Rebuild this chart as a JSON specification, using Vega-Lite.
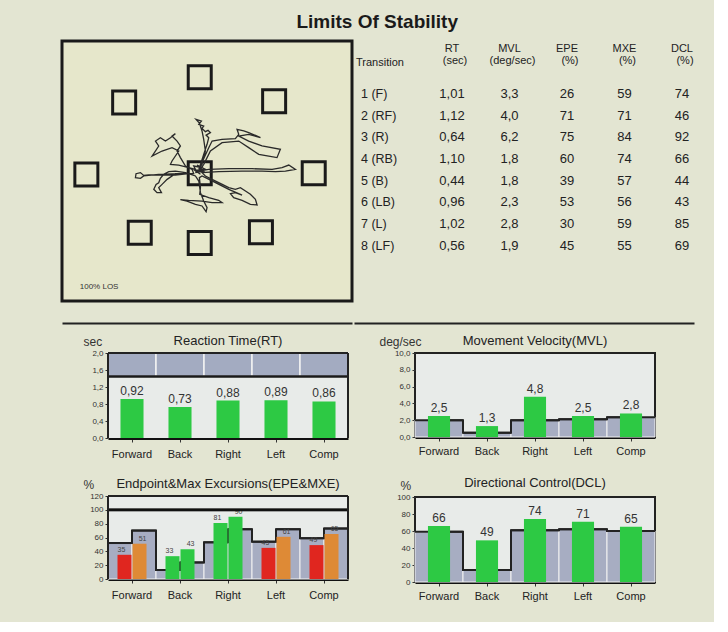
{
"$schema":"https://vega.github.io/schema/vega-lite/v6.json",
"background":"#e3e5d2",
"padding":{"left":60,"top":12,"right":20,"bottom":20},
"title":{"text":"Limits Of Stability","fontSize":19,"fontWeight":"bold","offset":8,"color":"#1a1a1a","anchor":"middle"},
"config":{
 "font":"Liberation Sans",
 "locale":{"number":{"decimal":",","thousands":".","grouping":[3],"currency":["","\u00a0€"]}},
 "view":{"stroke":null},
 "axis":{"grid":false},
 "tick":{"opacity":1}
},
"datasets":{
 "targets":[{"x":0,"y":80},{"x":-63,"y":59},{"x":62,"y":60},{"x":-94.5,"y":-1},{"x":0,"y":0},{"x":95,"y":0},{"x":-50,"y":-49.5},{"x":0,"y":-58},{"x":51,"y":-49}],
 "trace":[
{"i":1,"x":-0.8,"y":1.9},{"i":2,"x":0.6,"y":7.5},{"i":3,"x":3.3,"y":15.8},{"i":4,"x":6.1,"y":24.2},{"i":5,"x":7.5,"y":29.7},{"i":6,"x":5.3,"y":31.9},{"i":7,"x":8.9,"y":33.9},{"i":8,"x":6.9,"y":35.8},{"i":9,"x":4.7,"y":34.7},{"i":10,"x":1.9,"y":37.5},
{"i":11,"x":3.3,"y":39.4},{"i":12,"x":-0.8,"y":40.8},{"i":13,"x":1.4,"y":43.6},{"i":14,"x":-3.1,"y":45},{"i":15,"x":-0.3,"y":41.9},{"i":16,"x":1.9,"y":35.3},{"i":17,"x":3.3,"y":28.3},{"i":18,"x":4.7,"y":18.6},{"i":19,"x":1.9,"y":7.5},{"i":20,"x":-0.8,"y":3.3},
{"i":21,"x":7.5,"y":21.4},{"i":22,"x":10.3,"y":26.9},{"i":23,"x":18.6,"y":28.3},{"i":24,"x":29.7,"y":28.9},{"i":25,"x":32.5,"y":32.5},{"i":26,"x":31.1,"y":36.7},{"i":27,"x":36.7,"y":35.3},{"i":28,"x":40.8,"y":33.9},{"i":29,"x":47.8,"y":31.1},{"i":30,"x":50.6,"y":29.7},
{"i":31,"x":40.8,"y":32.5},{"i":32,"x":32.5,"y":31.1},{"i":33,"x":40.8,"y":26.9},{"i":34,"x":51.9,"y":22.8},{"i":35,"x":67.2,"y":20},{"i":36,"x":64.4,"y":13.1},{"i":37,"x":57.5,"y":14.4},{"i":38,"x":49.2,"y":15.8},{"i":39,"x":40.8,"y":21.4},{"i":40,"x":32.5,"y":26.9},
{"i":41,"x":18.6,"y":25.6},{"i":42,"x":8.9,"y":18.6},{"i":43,"x":3.3,"y":7.5},{"i":44,"x":-0.3,"y":1.9},{"i":45,"x":7.5,"y":3.3},{"i":46,"x":24.2,"y":3.9},{"i":47,"x":43.6,"y":3.9},{"i":48,"x":60.3,"y":3.3},{"i":49,"x":68.6,"y":4.7},{"i":50,"x":74.2,"y":6.9},
{"i":51,"x":79.7,"y":3.3},{"i":52,"x":71.4,"y":1.9},{"i":53,"x":63.1,"y":1.4},{"i":54,"x":51.9,"y":1.9},{"i":55,"x":35.3,"y":1.9},{"i":56,"x":15.8,"y":1.4},{"i":57,"x":1.9,"y":0.6},{"i":58,"x":4.7,"y":-2.2},{"i":59,"x":15.8,"y":-7.8},{"i":60,"x":24.2,"y":-11.9},
{"i":61,"x":29.7,"y":-13.3},{"i":62,"x":33.9,"y":-11.9},{"i":63,"x":38.1,"y":-14.7},{"i":64,"x":42.2,"y":-17.5},{"i":65,"x":46.4,"y":-21.7},{"i":66,"x":47.8,"y":-26.4},{"i":67,"x":42.2,"y":-25.8},{"i":68,"x":35.3,"y":-22.5},{"i":69,"x":28.3,"y":-20.3},{"i":70,"x":25.6,"y":-16.9},
{"i":71,"x":29.7,"y":-16.1},{"i":72,"x":35.3,"y":-18.1},{"i":73,"x":24.2,"y":-13.3},{"i":74,"x":13.1,"y":-7.8},{"i":75,"x":1.9,"y":-2.2},{"i":76,"x":-0.3,"y":-3.6},{"i":77,"x":0.6,"y":-11.9},{"i":78,"x":0,"y":-17.5},{"i":79,"x":7.5,"y":-20.3},{"i":80,"x":15.8,"y":-22.5},
{"i":81,"x":18.6,"y":-24.4},{"i":82,"x":10.3,"y":-24.4},{"i":83,"x":1.9,"y":-23.1},{"i":84,"x":-9.2,"y":-22.5},{"i":85,"x":-16.1,"y":-21.9},{"i":86,"x":-10.6,"y":-23.1},{"i":87,"x":-3.6,"y":-25.8},{"i":88,"x":1.9,"y":-27.2},{"i":89,"x":5.3,"y":-31.9},{"i":90,"x":6.1,"y":-28.6},
{"i":91,"x":3.3,"y":-23.1},{"i":92,"x":0.6,"y":-16.1},{"i":93,"x":-0.8,"y":-6.4},{"i":94,"x":-3.6,"y":-2.2},{"i":95,"x":-11.9,"y":0.6},{"i":96,"x":-20.3,"y":1.9},{"i":97,"x":-25.8,"y":1.4},{"i":98,"x":-30,"y":-0.8},{"i":99,"x":-32.8,"y":-4.2},{"i":100,"x":-34.2,"y":-7.8},
{"i":101,"x":-36.4,"y":-9.2},{"i":102,"x":-38.3,"y":-13.3},{"i":103,"x":-35.6,"y":-16.1},{"i":104,"x":-31.9,"y":-16.1},{"i":105,"x":-34.2,"y":-11.9},{"i":106,"x":-31.4,"y":-9.2},{"i":107,"x":-27.2,"y":-5},{"i":108,"x":-20.3,"y":-0.3},{"i":109,"x":-9.2,"y":-0.3},{"i":110,"x":-20.3,"y":-1.4},
{"i":111,"x":-31.4,"y":-1.4},{"i":112,"x":-42.5,"y":-1.4},{"i":113,"x":-46.7,"y":-1.7},{"i":114,"x":-49.4,"y":0.6},{"i":115,"x":-53.1,"y":-0.3},{"i":116,"x":-53.6,"y":-3.6},{"i":117,"x":-49.4,"y":-4.2},{"i":118,"x":-46.7,"y":-2.2},{"i":119,"x":-34.2,"y":-0.8},{"i":120,"x":-17.5,"y":-0.3},
{"i":121,"x":-5,"y":-0.3},{"i":122,"x":-6.4,"y":3.3},{"i":123,"x":-11.9,"y":6.1},{"i":124,"x":-16.1,"y":13.1},{"i":125,"x":-18.9,"y":18.6},{"i":126,"x":-16.1,"y":22.8},{"i":127,"x":-18.9,"y":26.9},{"i":128,"x":-23.1,"y":31.1},{"i":129,"x":-20.3,"y":33.1},{"i":130,"x":-24.4,"y":29.7},
{"i":131,"x":-28.6,"y":26.9},{"i":132,"x":-32.8,"y":29.7},{"i":133,"x":-36.9,"y":26.9},{"i":134,"x":-34.2,"y":22.8},{"i":135,"x":-39.7,"y":14.4},{"i":136,"x":-31.4,"y":18.6},{"i":137,"x":-23.1,"y":21.4},{"i":138,"x":-17.5,"y":18.6},{"i":139,"x":-23.1,"y":10.3},{"i":140,"x":-24.4,"y":7.5},
{"i":141,"x":-17.5,"y":6.9},{"i":142,"x":-9.2,"y":4.7},{"i":143,"x":-3.6,"y":3.3},{"i":144,"x":-5,"y":6.1},{"i":145,"x":1.9,"y":4.7},{"i":146,"x":-3.6,"y":0.6},{"i":147,"x":3.3,"y":1.9},{"i":148,"x":-2.2,"y":6.9},{"i":149,"x":4.7,"y":3.3},{"i":150,"x":-4.2,"y":2.5},{"i":151,"x":0.6,"y":-0.8}
 ],
 "table":[
 {"n":1,"t":"1 (F)","RT":1.01,"MVL":3.3,"EPE":26,"MXE":59,"DCL":74},
 {"n":2,"t":"2 (RF)","RT":1.12,"MVL":4.0,"EPE":71,"MXE":71,"DCL":46},
 {"n":3,"t":"3 (R)","RT":0.64,"MVL":6.2,"EPE":75,"MXE":84,"DCL":92},
 {"n":4,"t":"4 (RB)","RT":1.10,"MVL":1.8,"EPE":60,"MXE":74,"DCL":66},
 {"n":5,"t":"5 (B)","RT":0.44,"MVL":1.8,"EPE":39,"MXE":57,"DCL":44},
 {"n":6,"t":"6 (LB)","RT":0.96,"MVL":2.3,"EPE":53,"MXE":56,"DCL":43},
 {"n":7,"t":"7 (L)","RT":1.02,"MVL":2.8,"EPE":30,"MXE":59,"DCL":85},
 {"n":8,"t":"8 (LF)","RT":0.56,"MVL":1.9,"EPE":45,"MXE":55,"DCL":69}
 ],
 "hdr":[{"c":"RT","h1":"RT","h2":"(sec)"},{"c":"MVL","h1":"MVL","h2":"(deg/sec)"},{"c":"EPE","h1":"EPE","h2":"(%)"},{"c":"MXE","h1":"MXE","h2":"(%)"},{"c":"DCL","h1":"DCL","h2":"(%)"}],
 "rt":[{"d":"Forward","v":0.92,"norm":1.45},{"d":"Back","v":0.73,"norm":1.45},{"d":"Right","v":0.88,"norm":1.45},{"d":"Left","v":0.89,"norm":1.45},{"d":"Comp","v":0.86,"norm":1.45}],
 "mvl":[{"d":"Forward","v":2.5,"norm":2.0},{"d":"Back","v":1.3,"norm":0.5},{"d":"Right","v":4.8,"norm":2.0},{"d":"Left","v":2.5,"norm":2.1},{"d":"Comp","v":2.8,"norm":2.35}],
 "dcl":[{"d":"Forward","v":66,"norm":59},{"d":"Back","v":49,"norm":14},{"d":"Right","v":74,"norm":61},{"d":"Left","v":71,"norm":62},{"d":"Comp","v":65,"norm":60}],
 "epe":[
 {"k":1,"d":"Forward","m":"EPE","v":35,"norm":52,"f":"EPE low"},
 {"k":2,"d":"Forward","m":"MXE","v":51,"norm":70,"f":"MXE low"},
 {"k":3,"d":"Back","m":"EPE","v":33,"norm":13,"f":"ok"},
 {"k":4,"d":"Back","m":"MXE","v":43,"norm":24,"f":"ok"},
 {"k":5,"d":"Right","m":"EPE","v":81,"norm":53,"f":"ok"},
 {"k":6,"d":"Right","m":"MXE","v":90,"norm":72,"f":"ok"},
 {"k":7,"d":"Left","m":"EPE","v":45,"norm":54,"f":"EPE low"},
 {"k":8,"d":"Left","m":"MXE","v":61,"norm":72,"f":"MXE low"},
 {"k":9,"d":"Comp","m":"EPE","v":49,"norm":59,"f":"EPE low"},
 {"k":10,"d":"Comp","m":"MXE","v":65,"norm":73,"f":"MXE low"}
 ]
},
"spacing":8,
"vconcat":[
 {"spacing":-3,"hconcat":[
  {"width":290,"height":260,
   "view":{"stroke":"#1a1a1a","strokeWidth":3,"fill":"#e6e7cb"},
   "layer":[
    {"data":{"name":"targets"},"mark":{"type":"point","shape":"square","size":529,"filled":false,"stroke":"#1a1a1a","strokeWidth":3,"opacity":1},
     "encoding":{
      "x":{"field":"x","type":"quantitative","scale":{"domain":[-114.8,126.9],"nice":false,"zero":false},"axis":{"title":null,"labels":false,"ticks":false,"grid":false,"domain":true,"domainColor":"#222","domainWidth":2,"offset":22}},
      "y":{"field":"y","type":"quantitative","scale":{"domain":[-106.4,110.3],"nice":false,"zero":false},"axis":null}}},
    {"data":{"name":"trace"},"mark":{"type":"line","color":"#2a2a2a","strokeWidth":1.3},
     "encoding":{
      "x":{"field":"x","type":"quantitative","axis":{"title":null,"labels":false,"ticks":false,"grid":false,"domain":true,"domainColor":"#222","domainWidth":2,"offset":22}},
      "y":{"field":"y","type":"quantitative","axis":null},
      "order":{"field":"i","type":"quantitative"}}},
    {"data":{"values":[{}]},"mark":{"type":"text","align":"left","fontSize":8,"color":"#333"},
     "encoding":{
      "x":{"datum":-100,"type":"quantitative","axis":{"title":null,"labels":false,"ticks":false,"grid":false,"domain":true,"domainColor":"#222","domainWidth":2,"offset":22}},
      "y":{"datum":-95,"type":"quantitative","axis":null},
      "text":{"value":"100% LOS"}}}
   ]
  },
  {"width":340,"height":260,
   "view":{"stroke":null},
   "layer":[
    {"data":{"name":"hdr"},"mark":{"type":"text","fontSize":11,"color":"#222"},
     "encoding":{"x":{"field":"c","type":"nominal","scale":{"type":"point","domain":["Transition","RT","MVL","EPE","MXE","DCL"],"padding":0.4565,"align":0.771},"axis":{"title":null,"labels":false,"ticks":false,"grid":false,"domain":true,"domainColor":"#222","domainWidth":2,"offset":22}},
      "y":{"datum":-1.1,"type":"quantitative","scale":{"domain":[-1.45,10.55],"reverse":true,"nice":false,"zero":false},"axis":null},"text":{"field":"h1","type":"nominal"}}},
    {"data":{"name":"hdr"},"mark":{"type":"text","fontSize":11,"color":"#222","dx":3},
     "encoding":{"x":{"field":"c","type":"nominal","axis":{"title":null,"labels":false,"ticks":false,"grid":false,"domain":true,"domainColor":"#222","domainWidth":2,"offset":22}},
      "y":{"datum":-0.55,"type":"quantitative","axis":null},"text":{"field":"h2","type":"nominal"}}},
    {"data":{"values":[{}]},"mark":{"type":"text","align":"left","dx":-38.5,"fontSize":11,"color":"#222"},
     "encoding":{"x":{"datum":"Transition","type":"nominal","axis":{"title":null,"labels":false,"ticks":false,"grid":false,"domain":true,"domainColor":"#222","domainWidth":2,"offset":22}},
      "y":{"datum":-0.42,"type":"quantitative","axis":null},"text":{"value":"Transition"}}},
    {"data":{"name":"table"},"mark":{"type":"text","align":"left","dx":-33.5,"fontSize":12.5,"color":"#222"},
     "encoding":{"x":{"datum":"Transition","type":"nominal","axis":{"title":null,"labels":false,"ticks":false,"grid":false,"domain":true,"domainColor":"#222","domainWidth":2,"offset":22}},
      "y":{"field":"n","type":"quantitative","axis":null},"text":{"field":"t","type":"nominal"}}},
    {"data":{"name":"table"},"mark":{"type":"text","fontSize":13,"color":"#222"},"encoding":{"x":{"datum":"RT","type":"nominal","axis":{"title":null,"labels":false,"ticks":false,"grid":false,"domain":true,"domainColor":"#222","domainWidth":2,"offset":22}},"y":{"field":"n","type":"quantitative","axis":null},"text":{"field":"RT","type":"quantitative","format":".2f"}}},
    {"data":{"name":"table"},"mark":{"type":"text","fontSize":13,"color":"#222"},"encoding":{"x":{"datum":"MVL","type":"nominal","axis":{"title":null,"labels":false,"ticks":false,"grid":false,"domain":true,"domainColor":"#222","domainWidth":2,"offset":22}},"y":{"field":"n","type":"quantitative","axis":null},"text":{"field":"MVL","type":"quantitative","format":".1f"}}},
    {"data":{"name":"table"},"mark":{"type":"text","fontSize":13,"color":"#222"},"encoding":{"x":{"datum":"EPE","type":"nominal","axis":{"title":null,"labels":false,"ticks":false,"grid":false,"domain":true,"domainColor":"#222","domainWidth":2,"offset":22}},"y":{"field":"n","type":"quantitative","axis":null},"text":{"field":"EPE","type":"quantitative","format":"d"}}},
    {"data":{"name":"table"},"mark":{"type":"text","fontSize":13,"color":"#222"},"encoding":{"x":{"datum":"MXE","type":"nominal","axis":{"title":null,"labels":false,"ticks":false,"grid":false,"domain":true,"domainColor":"#222","domainWidth":2,"offset":22}},"y":{"field":"n","type":"quantitative","axis":null},"text":{"field":"MXE","type":"quantitative","format":"d"}}},
    {"data":{"name":"table"},"mark":{"type":"text","fontSize":13,"color":"#222"},"encoding":{"x":{"datum":"DCL","type":"nominal","axis":{"title":null,"labels":false,"ticks":false,"grid":false,"domain":true,"domainColor":"#222","domainWidth":2,"offset":22}},"y":{"field":"n","type":"quantitative","axis":null},"text":{"field":"DCL","type":"quantitative","format":"d"}}}
   ]
  }
 ]},
 {"spacing":25,"hconcat":[
  {"spacing":18,"vconcat":[
   {"width":286,"height":85,
    "title":{"text":"Reaction Time(RT)","fontSize":13,"fontWeight":"normal","color":"#222","anchor":"middle","offset":-12.5,"dx":23},
    "data":{"name":"rt"},
    "view":{"stroke":null},
    "layer":[
     {"mark":{"type":"bar","fill":"#e8ebe9","width":{"band":1}},
      "encoding":{
       "x":{"field":"d","type":"nominal","sort":["Forward","Back","Right","Left","Comp"],"scale":{"range":[46,286],"paddingInner":0,"paddingOuter":0},"axis":{"title":null,"labelAngle":0,"labelFontSize":11,"labelColor":"#222","labelPadding":6,"tickSize":4,"tickColor":"#333","domainWidth":3,"domainColor":"#111"}},
       "y":{"datum":2,"type":"quantitative","scale":{"domain":[0,2],"nice":false},"axis":{"offset":-46,"title":"sec","titleX":-25,"titleY":-12,"titleAngle":0,"titleAlign":"left","titleBaseline":"middle","titleFontSize":12,"titleFontWeight":"normal","titleColor":"#333","values":[0,0.4,0.8,1.2,1.6,2],"format":".1f","labelFontSize":8,"labelColor":"#333","tickSize":3,"tickColor":"#333","domain":false,"labelPadding":2}}}},
     {"mark":{"type":"bar","fill":"#a3abc1","stroke":"#f2f2f2","strokeWidth":1.5,"width":{"band":1}},
      "encoding":{
       "x":{"field":"d","type":"nominal","sort":["Forward","Back","Right","Left","Comp"],"axis":{"title":null,"labelAngle":0,"labelFontSize":11,"labelColor":"#222","labelPadding":6,"tickSize":4,"tickColor":"#333","domainWidth":3,"domainColor":"#111"}},
       "y":{"field":"norm","type":"quantitative","axis":{"offset":-46,"title":"sec","titleX":-25,"titleY":-12,"titleAngle":0,"titleAlign":"left","titleBaseline":"middle","titleFontSize":12,"titleFontWeight":"normal","titleColor":"#333","values":[0,0.4,0.8,1.2,1.6,2],"format":".1f","labelFontSize":8,"labelColor":"#333","tickSize":3,"tickColor":"#333","domain":false,"labelPadding":2}},"y2":{"datum":2}}},
     {"mark":{"type":"tick","color":"#1a1a1a","thickness":2.5,"size":48,"opacity":1},
      "encoding":{
       "x":{"field":"d","type":"nominal","sort":["Forward","Back","Right","Left","Comp"],"axis":{"title":null,"labelAngle":0,"labelFontSize":11,"labelColor":"#222","labelPadding":6,"tickSize":4,"tickColor":"#333","domainWidth":3,"domainColor":"#111"}},
       "y":{"field":"norm","type":"quantitative","axis":{"offset":-46,"title":"sec","titleX":-25,"titleY":-12,"titleAngle":0,"titleAlign":"left","titleBaseline":"middle","titleFontSize":12,"titleFontWeight":"normal","titleColor":"#333","values":[0,0.4,0.8,1.2,1.6,2],"format":".1f","labelFontSize":8,"labelColor":"#333","tickSize":3,"tickColor":"#333","domain":false,"labelPadding":2}}}},
     {"mark":{"type":"bar","color":"#2dc944","width":{"band":0.48}},
      "encoding":{
       "x":{"field":"d","type":"nominal","sort":["Forward","Back","Right","Left","Comp"],"axis":{"title":null,"labelAngle":0,"labelFontSize":11,"labelColor":"#222","labelPadding":6,"tickSize":4,"tickColor":"#333","domainWidth":3,"domainColor":"#111"}},
       "y":{"field":"v","type":"quantitative","axis":{"offset":-46,"title":"sec","titleX":-25,"titleY":-12,"titleAngle":0,"titleAlign":"left","titleBaseline":"middle","titleFontSize":12,"titleFontWeight":"normal","titleColor":"#333","values":[0,0.4,0.8,1.2,1.6,2],"format":".1f","labelFontSize":8,"labelColor":"#333","tickSize":3,"tickColor":"#333","domain":false,"labelPadding":2}}}},
     {"mark":{"type":"text","dy":-8,"fontSize":12,"color":"#333"},
      "encoding":{
       "x":{"field":"d","type":"nominal","sort":["Forward","Back","Right","Left","Comp"],"axis":{"title":null,"labelAngle":0,"labelFontSize":11,"labelColor":"#222","labelPadding":6,"tickSize":4,"tickColor":"#333","domainWidth":3,"domainColor":"#111"}},
       "y":{"field":"v","type":"quantitative","axis":{"offset":-46,"title":"sec","titleX":-25,"titleY":-12,"titleAngle":0,"titleAlign":"left","titleBaseline":"middle","titleFontSize":12,"titleFontWeight":"normal","titleColor":"#333","values":[0,0.4,0.8,1.2,1.6,2],"format":".1f","labelFontSize":8,"labelColor":"#333","tickSize":3,"tickColor":"#333","domain":false,"labelPadding":2}},
       "text":{"field":"v","type":"quantitative","format":".2f"}}},
     {"mark":{"type":"tick","color":"#222","thickness":2,"size":48,"opacity":1},
      "encoding":{
       "x":{"field":"d","type":"nominal","sort":["Forward","Back","Right","Left","Comp"],"axis":{"title":null,"labelAngle":0,"labelFontSize":11,"labelColor":"#222","labelPadding":6,"tickSize":4,"tickColor":"#333","domainWidth":3,"domainColor":"#111"}},
       "y":{"datum":2,"type":"quantitative","axis":{"offset":-46,"title":"sec","titleX":-25,"titleY":-12,"titleAngle":0,"titleAlign":"left","titleBaseline":"middle","titleFontSize":12,"titleFontWeight":"normal","titleColor":"#333","values":[0,0.4,0.8,1.2,1.6,2],"format":".1f","labelFontSize":8,"labelColor":"#333","tickSize":3,"tickColor":"#333","domain":false,"labelPadding":2}}}},
     {"mark":{"type":"rule","color":"#222","strokeWidth":2},
      "encoding":{
       "x":{"datum":"Forward","type":"nominal","bandPosition":0,"axis":{"title":null,"labelAngle":0,"labelFontSize":11,"labelColor":"#222","labelPadding":6,"tickSize":4,"tickColor":"#333","domainWidth":3,"domainColor":"#111"}},
       "y":{"datum":0,"type":"quantitative","axis":{"offset":-46,"title":"sec","titleX":-25,"titleY":-12,"titleAngle":0,"titleAlign":"left","titleBaseline":"middle","titleFontSize":12,"titleFontWeight":"normal","titleColor":"#333","values":[0,0.4,0.8,1.2,1.6,2],"format":".1f","labelFontSize":8,"labelColor":"#333","tickSize":3,"tickColor":"#333","domain":false,"labelPadding":2}},
       "y2":{"datum":2}}},
     {"mark":{"type":"rule","color":"#222","strokeWidth":2},
      "encoding":{
       "x":{"datum":"Comp","type":"nominal","bandPosition":1,"axis":{"title":null,"labelAngle":0,"labelFontSize":11,"labelColor":"#222","labelPadding":6,"tickSize":4,"tickColor":"#333","domainWidth":3,"domainColor":"#111"}},
       "y":{"datum":0,"type":"quantitative","axis":{"offset":-46,"title":"sec","titleX":-25,"titleY":-12,"titleAngle":0,"titleAlign":"left","titleBaseline":"middle","titleFontSize":12,"titleFontWeight":"normal","titleColor":"#333","values":[0,0.4,0.8,1.2,1.6,2],"format":".1f","labelFontSize":8,"labelColor":"#333","tickSize":3,"tickColor":"#333","domain":false,"labelPadding":2}},
       "y2":{"datum":2}}}
    ]
   },
   {"width":286,"height":83,
    "title":{"text":"Endpoint&Max Excursions(EPE&MXE)","fontSize":13,"fontWeight":"normal","color":"#222","anchor":"middle","offset":-12.5,"dx":23},
    "data":{"name":"epe"},
    "view":{"stroke":null},
    "layer":[
     {"mark":{"type":"bar","fill":"#e8ebe9","width":{"band":1}},
      "encoding":{
       "x":{"field":"d","type":"nominal","sort":["Forward","Back","Right","Left","Comp"],"scale":{"range":[46,286],"paddingInner":0,"paddingOuter":0},"axis":{"title":null,"labelAngle":0,"labelFontSize":11,"labelColor":"#222","labelPadding":6,"tickSize":4,"tickColor":"#333","domainWidth":3,"domainColor":"#111"}},
       "xOffset":{"field":"m","type":"nominal","sort":["EPE","MXE"],"scale":{"paddingInner":0,"paddingOuter":0}},
       "y":{"datum":120,"type":"quantitative","scale":{"domain":[0,120],"nice":false},"axis":{"offset":-46,"title":"%","titleX":-25,"titleY":-12,"titleAngle":0,"titleAlign":"left","titleBaseline":"middle","titleFontSize":12,"titleFontWeight":"normal","titleColor":"#333","values":[0,20,40,60,80,100,120],"format":"d","labelFontSize":8,"labelColor":"#333","tickSize":3,"tickColor":"#333","domain":false,"labelPadding":2}}}},
     {"mark":{"type":"bar","fill":"#a7adc2","stroke":"#f2f2f2","strokeWidth":1,"width":{"band":1}},
      "encoding":{
       "x":{"field":"d","type":"nominal","sort":["Forward","Back","Right","Left","Comp"],"axis":{"title":null,"labelAngle":0,"labelFontSize":11,"labelColor":"#222","labelPadding":6,"tickSize":4,"tickColor":"#333","domainWidth":3,"domainColor":"#111"}},
       "xOffset":{"field":"m","type":"nominal","sort":["EPE","MXE"],"scale":{"paddingInner":0,"paddingOuter":0}},
       "y":{"field":"norm","type":"quantitative","axis":{"offset":-46,"title":"%","titleX":-25,"titleY":-12,"titleAngle":0,"titleAlign":"left","titleBaseline":"middle","titleFontSize":12,"titleFontWeight":"normal","titleColor":"#333","values":[0,20,40,60,80,100,120],"format":"d","labelFontSize":8,"labelColor":"#333","tickSize":3,"tickColor":"#333","domain":false,"labelPadding":2}}}},
     {"mark":{"type":"line","interpolate":"step","color":"#222","strokeWidth":2},
      "encoding":{
       "x":{"field":"d","type":"nominal","sort":["Forward","Back","Right","Left","Comp"],"axis":{"title":null,"labelAngle":0,"labelFontSize":11,"labelColor":"#222","labelPadding":6,"tickSize":4,"tickColor":"#333","domainWidth":3,"domainColor":"#111"}},
       "xOffset":{"field":"m","type":"nominal","sort":["EPE","MXE"],"scale":{"paddingInner":0,"paddingOuter":0}},
       "y":{"field":"norm","type":"quantitative","axis":{"offset":-46,"title":"%","titleX":-25,"titleY":-12,"titleAngle":0,"titleAlign":"left","titleBaseline":"middle","titleFontSize":12,"titleFontWeight":"normal","titleColor":"#333","values":[0,20,40,60,80,100,120],"format":"d","labelFontSize":8,"labelColor":"#333","tickSize":3,"tickColor":"#333","domain":false,"labelPadding":2}},
       "order":{"field":"k","type":"quantitative"}}},
     {"mark":{"type":"tick","color":"#222","thickness":2,"size":24,"opacity":1},
      "encoding":{
       "x":{"field":"d","type":"nominal","sort":["Forward","Back","Right","Left","Comp"],"axis":{"title":null,"labelAngle":0,"labelFontSize":11,"labelColor":"#222","labelPadding":6,"tickSize":4,"tickColor":"#333","domainWidth":3,"domainColor":"#111"}},
       "xOffset":{"field":"m","type":"nominal","sort":["EPE","MXE"],"scale":{"paddingInner":0,"paddingOuter":0}},
       "y":{"field":"norm","type":"quantitative","axis":{"offset":-46,"title":"%","titleX":-25,"titleY":-12,"titleAngle":0,"titleAlign":"left","titleBaseline":"middle","titleFontSize":12,"titleFontWeight":"normal","titleColor":"#333","values":[0,20,40,60,80,100,120],"format":"d","labelFontSize":8,"labelColor":"#333","tickSize":3,"tickColor":"#333","domain":false,"labelPadding":2}}}},
     {"mark":{"type":"bar","width":{"band":1}},
      "encoding":{
       "x":{"field":"d","type":"nominal","sort":["Forward","Back","Right","Left","Comp"],"axis":{"title":null,"labelAngle":0,"labelFontSize":11,"labelColor":"#222","labelPadding":6,"tickSize":4,"tickColor":"#333","domainWidth":3,"domainColor":"#111"}},
       "xOffset":{"field":"m","type":"nominal","sort":["EPE","MXE"],"scale":{"paddingInner":0.067,"paddingOuter":0.633}},
       "y":{"field":"v","type":"quantitative","axis":{"offset":-46,"title":"%","titleX":-25,"titleY":-12,"titleAngle":0,"titleAlign":"left","titleBaseline":"middle","titleFontSize":12,"titleFontWeight":"normal","titleColor":"#333","values":[0,20,40,60,80,100,120],"format":"d","labelFontSize":8,"labelColor":"#333","tickSize":3,"tickColor":"#333","domain":false,"labelPadding":2}},
       "color":{"field":"f","type":"nominal","scale":{"domain":["EPE low","MXE low","ok"],"range":["#e0261f","#de8a36","#2dc944"]},"legend":null}}},
     {"mark":{"type":"text","dy":-5,"fontSize":7,"color":"#444"},
      "encoding":{
       "x":{"field":"d","type":"nominal","sort":["Forward","Back","Right","Left","Comp"],"axis":{"title":null,"labelAngle":0,"labelFontSize":11,"labelColor":"#222","labelPadding":6,"tickSize":4,"tickColor":"#333","domainWidth":3,"domainColor":"#111"}},
       "xOffset":{"field":"m","type":"nominal","sort":["EPE","MXE"],"scale":{"paddingInner":0.067,"paddingOuter":0.633}},
       "y":{"field":"v","type":"quantitative","axis":{"offset":-46,"title":"%","titleX":-25,"titleY":-12,"titleAngle":0,"titleAlign":"left","titleBaseline":"middle","titleFontSize":12,"titleFontWeight":"normal","titleColor":"#333","values":[0,20,40,60,80,100,120],"format":"d","labelFontSize":8,"labelColor":"#333","tickSize":3,"tickColor":"#333","domain":false,"labelPadding":2}},
       "text":{"field":"v","type":"quantitative","format":"d"}}},
     {"mark":{"type":"tick","color":"#111","thickness":3,"size":24,"opacity":1},
      "encoding":{
       "x":{"field":"d","type":"nominal","sort":["Forward","Back","Right","Left","Comp"],"axis":{"title":null,"labelAngle":0,"labelFontSize":11,"labelColor":"#222","labelPadding":6,"tickSize":4,"tickColor":"#333","domainWidth":3,"domainColor":"#111"}},
       "xOffset":{"field":"m","type":"nominal","sort":["EPE","MXE"],"scale":{"paddingInner":0,"paddingOuter":0}},
       "y":{"datum":100,"type":"quantitative","axis":{"offset":-46,"title":"%","titleX":-25,"titleY":-12,"titleAngle":0,"titleAlign":"left","titleBaseline":"middle","titleFontSize":12,"titleFontWeight":"normal","titleColor":"#333","values":[0,20,40,60,80,100,120],"format":"d","labelFontSize":8,"labelColor":"#333","tickSize":3,"tickColor":"#333","domain":false,"labelPadding":2}}}},
     {"mark":{"type":"tick","color":"#222","thickness":2,"size":24,"opacity":1},
      "encoding":{
       "x":{"field":"d","type":"nominal","sort":["Forward","Back","Right","Left","Comp"],"axis":{"title":null,"labelAngle":0,"labelFontSize":11,"labelColor":"#222","labelPadding":6,"tickSize":4,"tickColor":"#333","domainWidth":3,"domainColor":"#111"}},
       "xOffset":{"field":"m","type":"nominal","sort":["EPE","MXE"],"scale":{"paddingInner":0,"paddingOuter":0}},
       "y":{"datum":120,"type":"quantitative","axis":{"offset":-46,"title":"%","titleX":-25,"titleY":-12,"titleAngle":0,"titleAlign":"left","titleBaseline":"middle","titleFontSize":12,"titleFontWeight":"normal","titleColor":"#333","values":[0,20,40,60,80,100,120],"format":"d","labelFontSize":8,"labelColor":"#333","tickSize":3,"tickColor":"#333","domain":false,"labelPadding":2}}}},
     {"mark":{"type":"rule","color":"#222","strokeWidth":2},
      "encoding":{
       "x":{"datum":"Forward","type":"nominal","bandPosition":0,"axis":{"title":null,"labelAngle":0,"labelFontSize":11,"labelColor":"#222","labelPadding":6,"tickSize":4,"tickColor":"#333","domainWidth":3,"domainColor":"#111"}},
       "y":{"datum":0,"type":"quantitative","axis":{"offset":-46,"title":"%","titleX":-25,"titleY":-12,"titleAngle":0,"titleAlign":"left","titleBaseline":"middle","titleFontSize":12,"titleFontWeight":"normal","titleColor":"#333","values":[0,20,40,60,80,100,120],"format":"d","labelFontSize":8,"labelColor":"#333","tickSize":3,"tickColor":"#333","domain":false,"labelPadding":2}},
       "y2":{"datum":120}}},
     {"mark":{"type":"rule","color":"#222","strokeWidth":2},
      "encoding":{
       "x":{"datum":"Comp","type":"nominal","bandPosition":1,"axis":{"title":null,"labelAngle":0,"labelFontSize":11,"labelColor":"#222","labelPadding":6,"tickSize":4,"tickColor":"#333","domainWidth":3,"domainColor":"#111"}},
       "y":{"datum":0,"type":"quantitative","axis":{"offset":-46,"title":"%","titleX":-25,"titleY":-12,"titleAngle":0,"titleAlign":"left","titleBaseline":"middle","titleFontSize":12,"titleFontWeight":"normal","titleColor":"#333","values":[0,20,40,60,80,100,120],"format":"d","labelFontSize":8,"labelColor":"#333","tickSize":3,"tickColor":"#333","domain":false,"labelPadding":2}},
       "y2":{"datum":120}}}
    ],
    "resolve":{"scale":{"xOffset":"independent"}}
   }
  ]},
  {"spacing":18,"vconcat":[
   {"width":240,"height":84,
    "title":{"text":"Movement Velocity(MVL)","fontSize":13,"fontWeight":"normal","color":"#222","anchor":"middle","offset":-12.8},
    "data":{"name":"mvl"},
    "view":{"stroke":"#222","strokeWidth":2,"fill":"#e8ebe9"},
    "encoding":{"x":{"field":"d","type":"nominal","sort":["Forward","Back","Right","Left","Comp"],"scale":{"paddingInner":0,"paddingOuter":0},"axis":{"title":null,"labelAngle":0,"labelFontSize":11,"labelColor":"#222","labelPadding":4,"tickSize":4,"tickColor":"#333","domainWidth":3,"domainColor":"#111"}}},
    "layer":[
     {"mark":{"type":"bar","fill":"#a7adc2","stroke":"#f2f2f2","strokeWidth":1,"width":{"band":1}},
      "encoding":{"y":{"field":"norm","type":"quantitative","scale":{"domain":[0,10],"nice":false},"axis":{"title":"deg/sec","titleX":-36,"titleY":-12,"titleAngle":0,"titleAlign":"left","titleBaseline":"middle","titleFontSize":12,"titleFontWeight":"normal","titleColor":"#333","values":[0,2,4,6,8,10],"format":".1f","labelFontSize":8,"labelColor":"#333","tickSize":3,"tickColor":"#333","domain":false,"minExtent":37,"labelPadding":2}}}},
     {"mark":{"type":"line","interpolate":"step","color":"#222","strokeWidth":2},"encoding":{"y":{"field":"norm","type":"quantitative","axis":{"title":"deg/sec","titleX":-36,"titleY":-12,"titleAngle":0,"titleAlign":"left","titleBaseline":"middle","titleFontSize":12,"titleFontWeight":"normal","titleColor":"#333","values":[0,2,4,6,8,10],"format":".1f","labelFontSize":8,"labelColor":"#333","tickSize":3,"tickColor":"#333","domain":false,"minExtent":37,"labelPadding":2}}}},
     {"mark":{"type":"tick","color":"#222","thickness":2,"size":48,"opacity":1},"encoding":{"y":{"field":"norm","type":"quantitative","axis":{"title":"deg/sec","titleX":-36,"titleY":-12,"titleAngle":0,"titleAlign":"left","titleBaseline":"middle","titleFontSize":12,"titleFontWeight":"normal","titleColor":"#333","values":[0,2,4,6,8,10],"format":".1f","labelFontSize":8,"labelColor":"#333","tickSize":3,"tickColor":"#333","domain":false,"minExtent":37,"labelPadding":2}}}},
     {"mark":{"type":"bar","color":"#2dc944","width":{"band":0.46}},"encoding":{"y":{"field":"v","type":"quantitative","axis":{"title":"deg/sec","titleX":-36,"titleY":-12,"titleAngle":0,"titleAlign":"left","titleBaseline":"middle","titleFontSize":12,"titleFontWeight":"normal","titleColor":"#333","values":[0,2,4,6,8,10],"format":".1f","labelFontSize":8,"labelColor":"#333","tickSize":3,"tickColor":"#333","domain":false,"minExtent":37,"labelPadding":2}}}},
     {"mark":{"type":"text","dy":-8,"fontSize":12,"color":"#333"},"encoding":{"y":{"field":"v","type":"quantitative","axis":{"title":"deg/sec","titleX":-36,"titleY":-12,"titleAngle":0,"titleAlign":"left","titleBaseline":"middle","titleFontSize":12,"titleFontWeight":"normal","titleColor":"#333","values":[0,2,4,6,8,10],"format":".1f","labelFontSize":8,"labelColor":"#333","tickSize":3,"tickColor":"#333","domain":false,"minExtent":37,"labelPadding":2}},"text":{"field":"v","type":"quantitative","format":".1f"}}}
    ]
   },
   {"width":240,"height":85,
    "title":{"text":"Directional Control(DCL)","fontSize":13,"fontWeight":"normal","color":"#222","anchor":"middle","offset":-10.5},
    "data":{"name":"dcl"},
    "view":{"stroke":"#222","strokeWidth":2,"fill":"#e8ebe9"},
    "encoding":{"x":{"field":"d","type":"nominal","sort":["Forward","Back","Right","Left","Comp"],"scale":{"paddingInner":0,"paddingOuter":0},"axis":{"title":null,"labelAngle":0,"labelFontSize":11,"labelColor":"#222","labelPadding":4,"tickSize":4,"tickColor":"#333","domainWidth":3,"domainColor":"#111"}}},
    "layer":[
     {"mark":{"type":"bar","fill":"#a7adc2","stroke":"#f2f2f2","strokeWidth":1,"width":{"band":1}},
      "encoding":{"y":{"field":"norm","type":"quantitative","scale":{"domain":[0,100],"nice":false},"axis":{"title":"%","titleX":-15,"titleY":-12,"titleAngle":0,"titleAlign":"left","titleBaseline":"middle","titleFontSize":12,"titleFontWeight":"normal","titleColor":"#333","values":[0,20,40,60,80,100],"format":"d","labelFontSize":8,"labelColor":"#333","tickSize":3,"tickColor":"#333","domain":false,"minExtent":37,"labelPadding":2}}}},
     {"mark":{"type":"line","interpolate":"step","color":"#222","strokeWidth":2},"encoding":{"y":{"field":"norm","type":"quantitative","axis":{"title":"%","titleX":-15,"titleY":-12,"titleAngle":0,"titleAlign":"left","titleBaseline":"middle","titleFontSize":12,"titleFontWeight":"normal","titleColor":"#333","values":[0,20,40,60,80,100],"format":"d","labelFontSize":8,"labelColor":"#333","tickSize":3,"tickColor":"#333","domain":false,"minExtent":37,"labelPadding":2}}}},
     {"mark":{"type":"tick","color":"#222","thickness":2,"size":48,"opacity":1},"encoding":{"y":{"field":"norm","type":"quantitative","axis":{"title":"%","titleX":-15,"titleY":-12,"titleAngle":0,"titleAlign":"left","titleBaseline":"middle","titleFontSize":12,"titleFontWeight":"normal","titleColor":"#333","values":[0,20,40,60,80,100],"format":"d","labelFontSize":8,"labelColor":"#333","tickSize":3,"tickColor":"#333","domain":false,"minExtent":37,"labelPadding":2}}}},
     {"mark":{"type":"bar","color":"#2dc944","width":{"band":0.46}},"encoding":{"y":{"field":"v","type":"quantitative","axis":{"title":"%","titleX":-15,"titleY":-12,"titleAngle":0,"titleAlign":"left","titleBaseline":"middle","titleFontSize":12,"titleFontWeight":"normal","titleColor":"#333","values":[0,20,40,60,80,100],"format":"d","labelFontSize":8,"labelColor":"#333","tickSize":3,"tickColor":"#333","domain":false,"minExtent":37,"labelPadding":2}}}},
     {"mark":{"type":"text","dy":-8,"fontSize":12,"color":"#333"},"encoding":{"y":{"field":"v","type":"quantitative","axis":{"title":"%","titleX":-15,"titleY":-12,"titleAngle":0,"titleAlign":"left","titleBaseline":"middle","titleFontSize":12,"titleFontWeight":"normal","titleColor":"#333","values":[0,20,40,60,80,100],"format":"d","labelFontSize":8,"labelColor":"#333","tickSize":3,"tickColor":"#333","domain":false,"minExtent":37,"labelPadding":2}},"text":{"field":"v","type":"quantitative","format":"d"}}}
    ]
   }
  ]}
 ]}
]
}
